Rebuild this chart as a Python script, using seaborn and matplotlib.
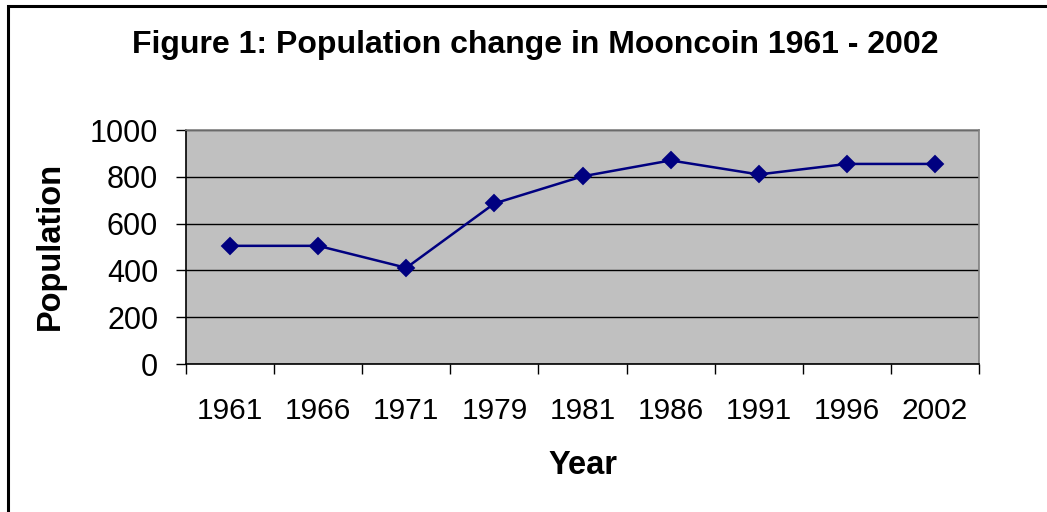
import matplotlib
matplotlib.use("Agg")
import matplotlib.pyplot as plt
import seaborn as sns
import pandas as pd
import numpy as np
from matplotlib.patches import Rectangle

# datos
años = ["1961", "1966", "1971", "1979", "1981", "1986", "1991", "1996", "2002"]
poblacion = [505, 505, 411, 686, 802, 870, 810, 855, 855]

df = pd.DataFrame({"Year": años, "Population": poblacion})

sns.set_style("white")
plt.rcParams["font.family"] = ["Liberation Sans", "DejaVu Sans"]
plt.rcParams["text.color"] = "black"
plt.rcParams["xtick.color"] = "black"
plt.rcParams["ytick.color"] = "black"

fig = plt.figure(figsize=(10.47, 5.12), dpi=100)
ax = fig.add_axes([186 / 1047, 1 - 364 / 512, (979 - 186) / 1047, (364 - 130) / 512])

sns.pointplot(data=df, x="Year", y="Population", color="#000080",
              markers="D", markersize=8, linewidth=1.8, ax=ax, zorder=5)

ax.set_facecolor("#c0c0c0")
ax.set_ylim(0, 1000)
ax.set_xlim(-0.5, len(años) - 0.5)
ax.set_yticks(np.arange(0, 1001, 200))
ax.yaxis.grid(True, color="black", linewidth=1.0)
ax.set_axisbelow(True)

# ticks en los limites de las categorias, etiquetas en el centro
ax.set_xticks(np.arange(-0.5, len(años), 1))
ax.set_xticklabels([])
ax.set_xticks(np.arange(len(años)), minor=True)
ax.set_xticklabels(años, minor=True)
ax.tick_params(axis="x", which="major", direction="out", length=7, width=1, color="black", bottom=True)
ax.tick_params(axis="x", which="minor", length=0, pad=24, labelsize=21.5, labelcolor="black")
ax.tick_params(axis="y", direction="out", length=7, width=1, color="black", left=True, pad=13,
               labelsize=22, labelcolor="black")

for s in ["top", "right"]:
    ax.spines[s].set_color("#808080")
    ax.spines[s].set_linewidth(1.2)
for s in ["left", "bottom"]:
    ax.spines[s].set_color("black")
    ax.spines[s].set_linewidth(1.2)

ax.set_xlabel("")
ax.set_ylabel("")
fig.text(50 / 1047, 1 - 246 / 512, "Population", rotation=90, ha="center", va="center",
         fontsize=23.5, fontweight="bold", color="black")
fig.text(583 / 1047, 1 - 465 / 512, "Year", ha="center", va="center",
         fontsize=23.5, fontweight="bold", color="black")
fig.text(535 / 1047, 1 - 45 / 512, "Figure 1: Population change in Mooncoin 1961 - 2002",
         ha="center", va="center", fontsize=23, fontweight="bold", color="black")

# marco del grafico
fig.patches.append(Rectangle((8 / 1047, -0.1), 1.2, 1 - 6 / 512 + 0.1, transform=fig.transFigure,
                             fill=False, edgecolor="black", linewidth=2.2))

plt.savefig("out.png", dpi=100)
